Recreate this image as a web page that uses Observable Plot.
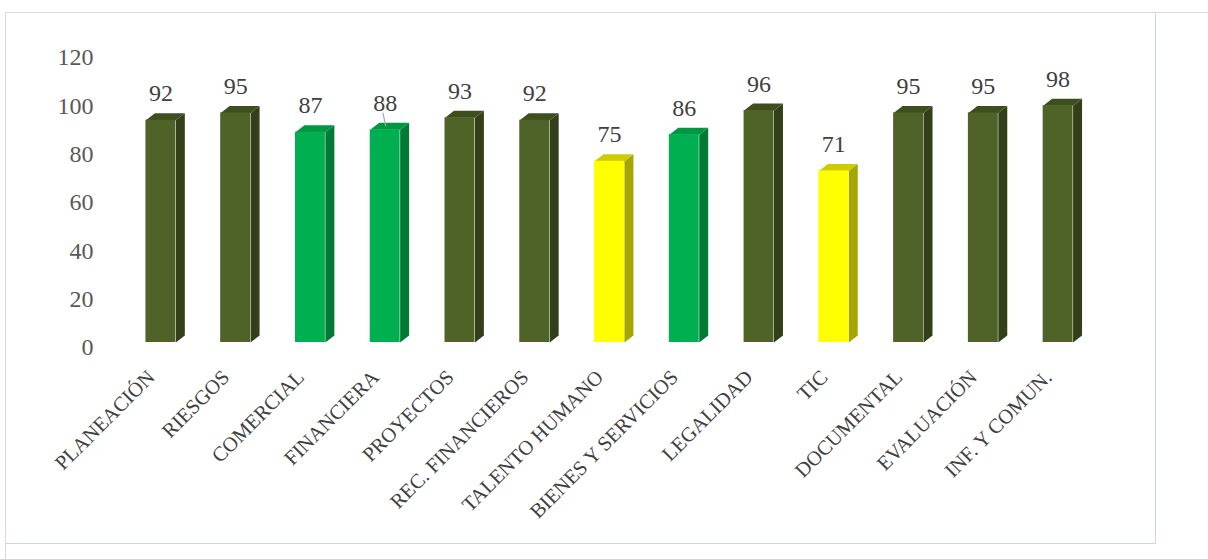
<!DOCTYPE html>
<html><head><meta charset="utf-8">
<script src="https://cdn.jsdelivr.net/npm/d3@7"></script>
<script src="https://cdn.jsdelivr.net/npm/@observablehq/plot@0.6"></script>
<style>
html,body{margin:0;padding:0;background:#fff;width:1208px;height:559px;overflow:hidden;}
#wrap{position:relative;width:1208px;height:559px;}
.ln{position:absolute;}
#chart{position:absolute;left:0;top:0;}
</style></head><body>
<div id="wrap">
<div class="ln" style="left:5px;top:12px;width:1203px;height:1px;background:#d9d9d9"></div>
<div class="ln" style="left:5px;top:12px;width:1px;height:547px;background:#d9d9d9"></div>
<div class="ln" style="left:1155px;top:13px;width:1px;height:531px;background:#c9d7ec"></div>
<div class="ln" style="left:6px;top:543px;width:1150px;height:1px;background:#c9d7ec"></div>
<div id="chart"></div>
</div>
<script>
const categories = ["PLANEACIÓN","RIESGOS","COMERCIAL","FINANCIERA","PROYECTOS","REC. FINANCIEROS","TALENTO HUMANO","BIENES Y SERVICIOS","LEGALIDAD","TIC","DOCUMENTAL","EVALUACIÓN","INF. Y COMUN."];
const values = [92,95,87,88,93,92,75,86,96,71,95,95,98];
const levels = ["alto","alto","medio","medio","alto","alto","bajo","medio","alto","bajo","alto","alto","alto"];
const yTicks = [0,20,40,60,80,100,120];
const leaderFor = ["FINANCIERA"];

const palette = {
  alto:  {front:"#4f6228", side:"#323f18", top:"#3e4e1f"},
  medio: {front:"#00b050", side:"#007a35", top:"#009743"},
  bajo:  {front:"#ffff00", side:"#a6a600", top:"#cccc00"}
};

// bar geometry in category / value units
const HALF = 0.2, DX = 0.12, DY = 2.9;

const bars = categories.map((c, i) => ({i, c, v: values[i], lvl: levels[i]}));

const faces = [];
bars.forEach(b => {
  const p = palette[b.lvl];
  const xl = b.i - HALF, xr = b.i + HALF;
  [[xr,0],[xr+DX,DY],[xr+DX,b.v+DY],[xr,b.v]].forEach(([x,y]) => faces.push({id:"s"+b.i, x, y, color:p.side}));
  [[xl,b.v],[xl+DX,b.v+DY],[xr+DX,b.v+DY],[xr,b.v]].forEach(([x,y]) => faces.push({id:"t"+b.i, x, y, color:p.top}));
});

const leaders = bars.filter(b => leaderFor.includes(b.c));

const chart = Plot.plot({
  width: 1208, height: 559,
  marginLeft: 123, marginRight: 113, marginTop: 52, marginBottom: 217,
  x: {type: "linear", domain: [-0.5, 12.5], axis: null},
  y: {domain: [0, 120], label: null},
  color: {type: "identity"},
  style: {fontFamily: "'Liberation Serif', serif", background: "transparent", overflow: "visible"},
  marks: [
    Plot.axisY({ticks: yTicks, tickSize: 0, tickPadding: 30, fontSize: 24, fill: "#595959", dy: 5, tickFormat: d => String(d), label: null}),
    Plot.line(faces, {x: "x", y: "y", z: "id", fill: "color", stroke: "none", curve: "linear-closed"}),
    Plot.rectY(bars, {x1: d => d.i - HALF, x2: d => d.i + HALF, y1: 0, y2: "v", fill: d => palette[d.lvl].front, inset: 0}),
    Plot.link(leaders, {x1: d => d.i - 0.03, y1: d => d.v + 7, x2: d => d.i + 0.007, y2: d => d.v + 1.5, stroke: "#a6a6a6", strokeWidth: 1.2}),
    Plot.text(bars, {x: "i", y: "v", text: d => String(d.v), dy: -19, lineAnchor: "bottom", fontSize: 24, fill: "#404040"}),
    Plot.text(bars, {x: "i", frameAnchor: "bottom", text: "c", rotate: -45, textAnchor: "end", lineAnchor: "bottom", dx: -5, dy: 36, fontSize: 20.5, fill: "#404040"})
  ]
});
document.getElementById("chart").appendChild(chart);
</script>
</body></html>
